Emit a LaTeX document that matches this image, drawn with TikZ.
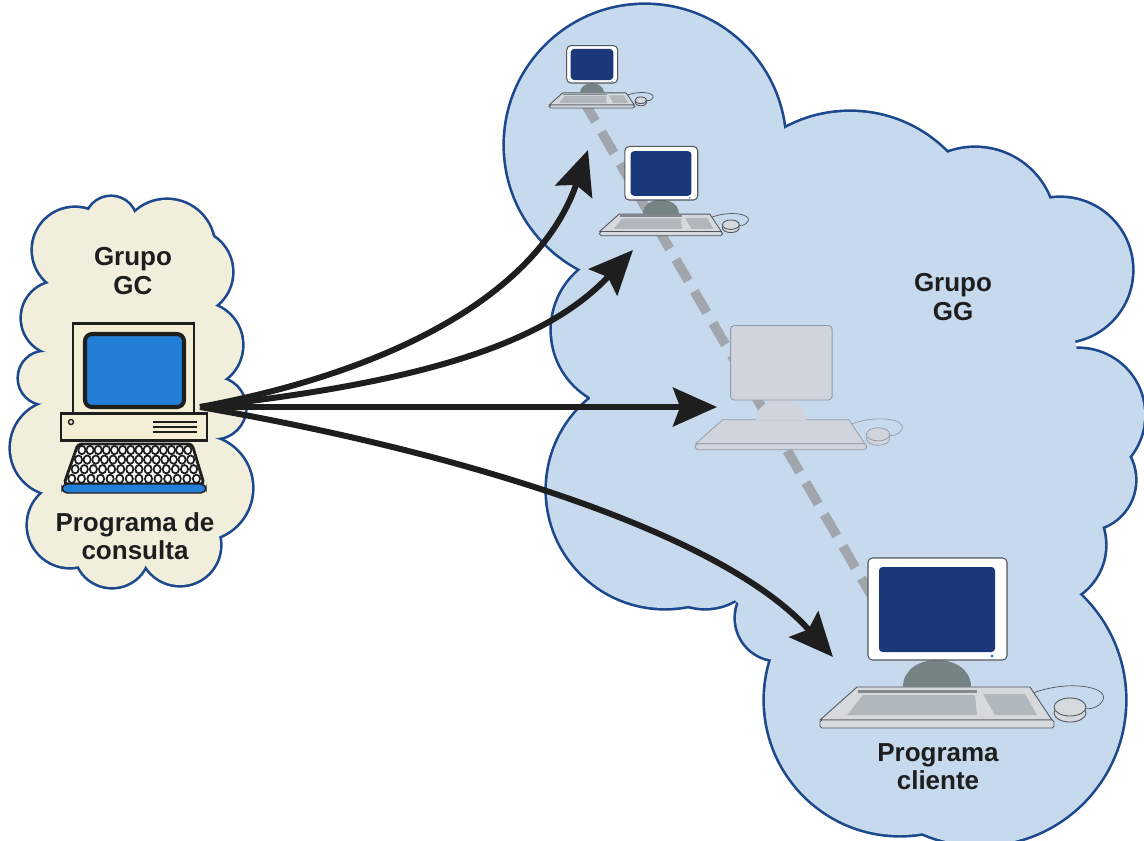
\documentclass[tikz,border=0pt]{standalone}
\usepackage{fontspec}
\setmainfont{Liberation Sans}
\usetikzlibrary{arrows.meta}

\definecolor{edgeblue}{RGB}{28,72,142}
\definecolor{sand}{RGB}{241,239,220}
\definecolor{sky}{RGB}{199,217,237}
\definecolor{navy}{RGB}{26,56,122}
\definecolor{cyanblue}{RGB}{34,126,214}
\definecolor{beige}{RGB}{244,239,212}
\definecolor{kbgray}{RGB}{214,218,222}
\definecolor{keygray}{RGB}{176,184,190}
\definecolor{standgray}{RGB}{118,130,132}
\definecolor{pcedge}{RGB}{80,86,92}
\definecolor{ghost}{RGB}{208,213,221}
\definecolor{ghostedge}{RGB}{146,154,166}
\definecolor{dashgray}{RGB}{160,166,172}
\definecolor{ink}{RGB}{30,30,30}

% cloud lobes as x/y/radius, plus a core polygon to plug the middle
\def\gclobes{75/250/42, 111/222/25, 167/247/47, 190/272/42, 200/345/42, 215/408/30,
  200/488/52, 180/545/40, 112/550/37, 70/525/42, 58/448/47, 45/378/26, 58/318/36}
\def\gccore{(60,250) -- (170,240) -- (205,300) -- (210,500) -- (180,550) -- (100,560)
  -- (60,500) -- (50,350) -- cycle}
\def\gglobes{645/145/140, 850/248/136, 975/228/80, 1060/270/72, 1078/415/66, 1085/480/50,
  1045/545/60, 980/700/145, 900/700/135, 778/618/42, 705/548/60, 665/490/118, 630/330/78}
\def\ggcore{(600,160) -- (780,140) -- (960,170) -- (1060,260) -- (1090,420) -- (1050,560)
  -- (980,800) -- (850,780) -- (770,630) -- (610,495) -- (580,350) -- cycle}

% outline first, then the fills wipe the inner halves of the strokes
\newcommand\drawcloud[3]{%
  \foreach \cx/\cy/\r in #1 \draw[cloudline] (\cx,\cy) circle[radius=\r];
  \foreach \cx/\cy/\r in #1 \fill[#2] (\cx,\cy) circle[radius=\r];
  \fill[#2] #3;}

% flat screen workstation, origin at the bottom middle of the monitor
\newcommand\flatpc[4][]{%
  \begin{scope}[shift={(#2,#3)}, scale=#4, #1]
    \draw[cable] (96,33) .. controls (130,20) and (172,26) .. (166,40)
                         .. controls (162,48) and (152,50) .. (146,48);
    \filldraw[board] (-80,27) -- (93,27) -- (115,60) -- (-117,60) -- cycle;
    \filldraw[board, rounded corners=1pt] (-117,60) rectangle (117,68);
    \fill[keyarea] (-74,35) -- (38,35) -- (40,55) -- (-90,55) -- cycle;
    \fill[keyarea] (46,34) -- (88,34) -- (100,55) -- (58,55) -- cycle;
    \fill[strip] (-79,29.5) rectangle (40,32.5);
    \filldraw[board] (133,53) ellipse[x radius=16, y radius=9];
    \filldraw[board] (133,47) ellipse[x radius=16, y radius=9];
    \fill[stand] (-34,27) .. controls (-34,-9) and (34,-9) .. (34,27) -- cycle;
    \filldraw[bezel] (-69,-102) rectangle (70,0);
    \fill[screen] (-58,-93) rectangle (58,-8);
    \fill[led] (55,-4) circle[radius=1.6];
  \end{scope}}

\begin{document}
\begin{tikzpicture}[x=0.02cm, y=-0.02cm,
    cloudline/.style={draw=edgeblue, line width=3pt},
    bezel/.style={draw=pcedge, fill=white, line width=.6pt, rounded corners=2.5pt},
    screen/.style={fill=navy, rounded corners=2pt},
    led/.style={fill=cyanblue},
    stand/.style={fill=standgray},
    board/.style={draw=pcedge, fill=kbgray, line width=.5pt, line join=round},
    keyarea/.style={fill=keygray},
    strip/.style={fill=pcedge!70},
    cable/.style={draw=pcedge, line width=.4pt},
    ghosted/.style={bezel/.style={fill=ghost, draw=ghostedge, line width=.5pt, rounded corners=2pt},
      screen/.style={fill=none}, led/.style={fill=none},
      stand/.style={fill=ghost},
      board/.style={fill=ghost, draw=ghostedge, line width=.4pt},
      keyarea/.style={fill=ghost}, strip/.style={fill=ghost},
      cable/.style={draw=ghostedge, line width=.4pt}},
    oldcase/.style={draw=ink, fill=beige, line width=1.7pt},
    keycap/.style={draw=ink, fill=white, line width=1pt},
    label/.style={text=ink, align=center, inner sep=0pt, font=\fontsize{14.8}{16}\selectfont\bfseries},
    flow/.style={draw=ink, line width=3.4pt, -{Stealth[length=25pt, width=22pt, inset=4pt]}},
    chain/.style={draw=dashgray, line width=5.5pt, dash pattern=on 14pt off 7pt}]
  \useasboundingbox (0,0) rectangle (1144,840);
  \clip (0,0) rectangle (1144,840);

  \drawcloud{\gclobes}{sand}{\gccore}
  \drawcloud{\gglobes}{sky}{\ggcore}

  % line of sight through the group
  \coordinate (chain-a) at (583,100);
  \coordinate (chain-b) at (880,610);
  \draw[chain] (chain-a) -- (chain-b);

  \flatpc{592}{83}{0.367}
  \flatpc{661}{200}{0.525}
  \flatpc[ghosted]{781}{400}{0.73}
  \flatpc{937}{660}{1}

  % query terminal
  \filldraw[oldcase] (73,323) rectangle (194,413);
  \filldraw[draw=ink, fill=cyanblue, line width=2.3pt, rounded corners=4pt] (85,334) rectangle (184,407);
  \filldraw[oldcase] (61,413) rectangle (207,440);
  \draw[ink, line width=.8pt] (71,422) circle[radius=2.5];
  \foreach \y in {422,427,432} \draw[ink, line width=1pt] (153,\y) -- (197,\y);
  \filldraw[draw=ink, fill=white, line width=1.6pt, rounded corners=2pt]
    (78,444) -- (192,444) -- (204,484) -- (64,484) -- cycle;
  \foreach \r in {0,...,3}{
    \pgfmathsetmacro\ky{450+9.6*\r}
    \pgfmathsetmacro\kl{78-(\ky-444)*0.35+6}
    \pgfmathsetmacro\kw{(102+(\ky-444)*0.65)/13}
    \foreach \c in {0,...,13} \draw[keycap] (\kl+\c*\kw,\ky) ellipse[x radius=3.6, y radius=4.2];
  }
  \filldraw[draw=ink, fill=cyanblue, line width=.8pt, rounded corners=3pt] (62,484) rectangle (206,493);

  \node[label] (gc) at (133,271) {Grupo\\GC};
  \node[label] (consulta) at (135,536) {Programa de\\consulta};
  \node[label] (gg) at (953,297) {Grupo\\GG};
  \node[label] (cliente) at (938,767) {Programa\\cliente};

  \coordinate (src) at (200,407);
  \coordinate (pc1) at (588,150);
  \coordinate (pc2) at (633,250);
  \coordinate (pc3) at (717,407);
  \coordinate (pc4) at (833,657);
  \draw[flow] (src) .. controls +(200,-37) and +(-48,140) .. (pc1);
  \draw[flow] (src) .. controls +(200,-22) and +(-93,100) .. (pc2);
  \draw[flow] (src) -- (pc3);
  \draw[flow] (src) .. controls +(250,43) and +(-113,-127) .. (pc4);
\end{tikzpicture}
\end{document}
